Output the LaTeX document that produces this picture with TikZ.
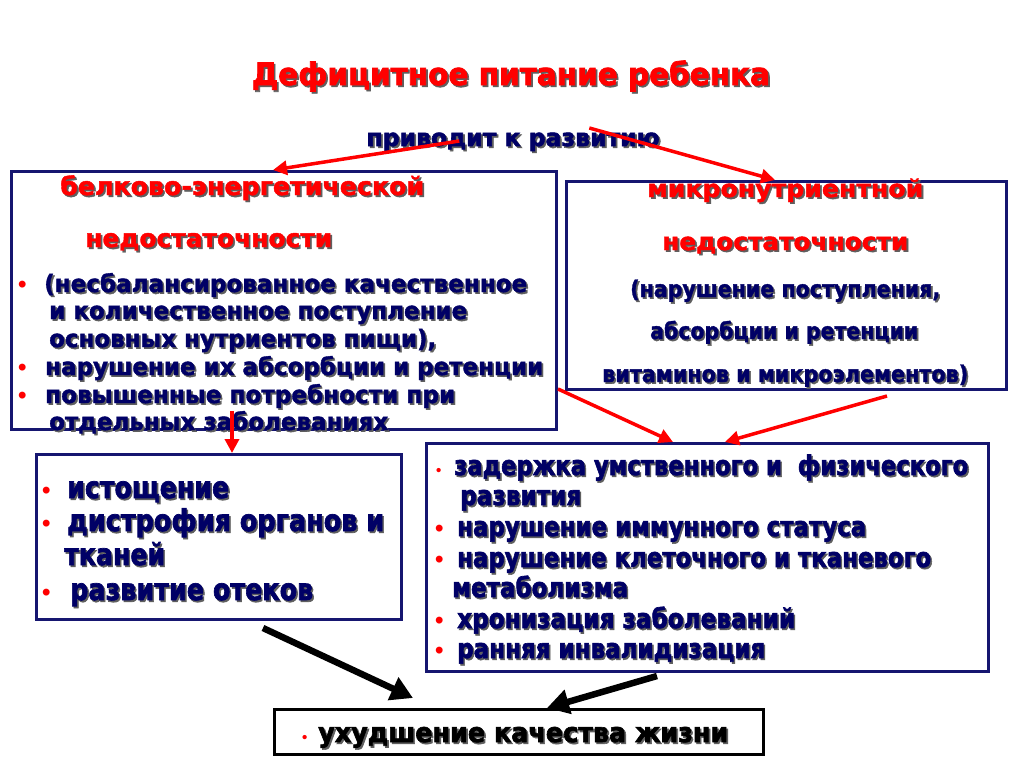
\documentclass[tikz,border=0pt]{standalone}
\usepackage{fontspec}
\setmainfont{Liberation Sans}
\newfontfamily\heavy[BoldFeatures={FakeBold=1.6}]{DejaVu Sans}
\newfontfamily\heavyb[BoldFeatures={FakeBold=2.4}]{DejaVu Sans}
\usetikzlibrary{arrows.meta,calc}
\definecolor{navy}{RGB}{0,0,102}
\definecolor{boxnavy}{RGB}{22,22,112}
\definecolor{shadowc}{RGB}{95,95,95}
\definecolor{myred}{RGB}{255,0,0}
\newcommand\shd[1]{\makebox[0pt][l]{\kern1.8pt\raisebox{-1.8pt}{\textcolor{shadowc}{#1}}}#1}
\newcommand\fitw[2]{\resizebox{#1pt}{\height}{\shd{#2}}}
\newcommand\bul[1]{\makebox[#1pt][l]{\textcolor{myred}{\normalfont\bfseries\fontsize{24}{24}\selectfont •}}}
\newcommand\sbul[1]{\makebox[#1pt][l]{\textcolor{myred}{\normalfont\bfseries\fontsize{15}{15}\selectfont •}}}
\tikzset{
  navybox/.style={draw=boxnavy, line width=3pt, inner sep=0pt, anchor=north west, fill=white},
  blackbox/.style={draw=black, line width=3pt, inner sep=0pt, anchor=north west, fill=white},
  ttl/.style={anchor=base, inner sep=0pt, text=myred, font=\heavyb\bfseries\fontsize{31}{31}\selectfont},
  lead/.style={anchor=base, inner sep=0pt, text=navy, font=\heavyb\bfseries\fontsize{24}{24}\selectfont},
  redhead/.style={anchor=base west, inner sep=0pt, text=myred, font=\heavy\bfseries\fontsize{25}{25}\selectfont},
  lline/.style={anchor=base west, inner sep=0pt, text=navy, font=\heavy\bfseries\fontsize{24}{24}\selectfont},
  rline/.style={anchor=base west, inner sep=0pt, text=navy, font=\heavy\bfseries\fontsize{23}{23}\selectfont},
  llline/.style={anchor=base west, inner sep=0pt, text=navy, font=\heavyb\bfseries\fontsize{30}{30}\selectfont},
  lrline/.style={anchor=base west, inner sep=0pt, text=navy, font=\heavyb\bfseries\fontsize{27}{27}\selectfont},
  botline/.style={anchor=base west, inner sep=0pt, text=black, font=\heavyb\bfseries\fontsize{27}{27}\selectfont},
  redarrow/.style={draw=myred, line width=3.5pt, -{Triangle[length=14pt,width=14pt]}},
  blackarrow/.style={draw=black, line width=6.5pt, -{Triangle[length=22pt,width=24pt]}}
}
\begin{document}
\begin{tikzpicture}[x=1pt,y=-1pt]
\path[use as bounding box, fill=white] (0,0) rectangle (1024,768);

% title and lead
\node[ttl] (title) at (511,85) {\fitw{518}{Дефицитное питание ребенка}};
\node[lead] (lead) at (513,146) {\fitw{293}{приводит к развитию}};

% boxes
\node[navybox, minimum width=545pt, minimum height=258pt] (lbox) at (10,170) {};
\node[navybox, minimum width=440pt, minimum height=208pt] (rbox) at (565,180) {};
\node[navybox, minimum width=365pt, minimum height=165pt] (llbox) at (35,453) {};
\node[navybox, minimum width=562pt, minimum height=228pt] (lrbox) at (425,442) {};
\node[blackbox, minimum width=489pt, minimum height=45pt] (bbox) at (273,708) {};

% left box text
\node[redhead] (l1) at (60,195) {\fitw{364}{белково-энергетической}};
\node[redhead] (l2) at (85,247) {\fitw{247}{недостаточности}};
\node[lline] (l3) at (18,292) {\bul{26}\fitw{483}{(несбалансированное качественное}};
\node[lline] (l4) at (49,319) {\fitw{418}{и количественное поступление}};
\node[lline] (l5) at (49,347) {\fitw{387}{основных нутриентов пищи),}};
\node[lline] (l6) at (18,375) {\bul{27}\fitw{498}{нарушение их абсорбции и ретенции}};
\node[lline] (l7) at (18,403) {\bul{27}\fitw{410}{повышенные потребности при}};
\node[lline] (l8) at (49,430) {\fitw{339}{отдельных заболеваниях}};

% right box text
\node[redhead, font=\heavy\bfseries\fontsize{24}{24}\selectfont] (r1) at (647,197) {\fitw{276}{микронутриентной}};
\node[redhead, font=\heavy\bfseries\fontsize{24}{24}\selectfont] (r2) at (662,250) {\fitw{246}{недостаточности}};
\node[rline] (r3) at (630,297) {\fitw{310}{(нарушение поступления,}};
\node[rline] (r4) at (650,339) {\fitw{268}{абсорбции и ретенции}};
\node[rline] (r5) at (602,382) {\fitw{366}{витаминов и микроэлементов)}};

% lower-left box text
\node[llline] (a1) at (42,498) {\bul{25}\fitw{162}{истощение}};
\node[llline] (a2) at (42,531) {\bul{25}\fitw{317}{дистрофия органов и}};
\node[llline] (a3) at (64,565) {\fitw{101}{тканей}};
\node[llline] (a4) at (42,600) {\bul{28}\fitw{243}{развитие отеков}};

% lower-right box text
\node[lrline] (b1) at (436,475) {\sbul{18}\fitw{514}{задержка умственного и~~физического}};
\node[lrline] (b2) at (460,505) {\fitw{121}{развития}};
\node[lrline] (b3) at (435,536) {\bul{22}\fitw{409}{нарушение иммунного статуса}};
\node[lrline] (b4) at (435,567) {\bul{22}\fitw{474}{нарушение клеточного и тканевого}};
\node[lrline] (b5) at (452,597) {\fitw{176}{метаболизма}};
\node[lrline] (b6) at (435,628) {\bul{22}\fitw{338}{хронизация заболеваний}};
\node[lrline] (b7) at (435,658) {\bul{22}\fitw{308}{ранняя инвалидизация}};

% bottom box text
\node[botline] (c1) at (302,742) {\sbul{16}\fitw{410}{ухудшение качества жизни}};

% connectors
\coordinate (s1) at ($(lead.base west)+(93,-5)$);
\coordinate (e1) at ($(lbox.north west)+(263,0)$);
\coordinate (s2) at ($(lead.base west)+(223,-18)$);
\coordinate (e2) at ($(rbox.north west)+(210,0)$);
\coordinate (s3) at ($(lbox.south west)+(222,-20)$);
\coordinate (e3) at ($(llbox.north west)+(197,0)$);
\coordinate (s4) at ($(lbox.south east)+(0,-42)$);
\coordinate (e4) at ($(lrbox.north west)+(248,0)$);
\coordinate (s5) at ($(rbox.south west)+(322,5)$);
\coordinate (e5) at ($(lrbox.north west)+(300,0)$);
\coordinate (s6) at ($(llbox.south west)+(228,7)$);
\coordinate (e6) at ($(bbox.north west)+(140,-10)$);
\coordinate (s7) at ($(lrbox.south west)+(232,3)$);
\coordinate (e7) at ($(bbox.north west)+(274,0)$);

\draw[redarrow] (s1) -- (e1);
\draw[redarrow] (s2) -- (e2);
\draw[redarrow] (s3) -- (e3);
\draw[redarrow] (s4) -- (e4);
\draw[redarrow] (s5) -- (e5);
\draw[blackarrow] (s6) -- (e6);
\draw[blackarrow] (s7) -- (e7);
\end{tikzpicture}
\end{document}
